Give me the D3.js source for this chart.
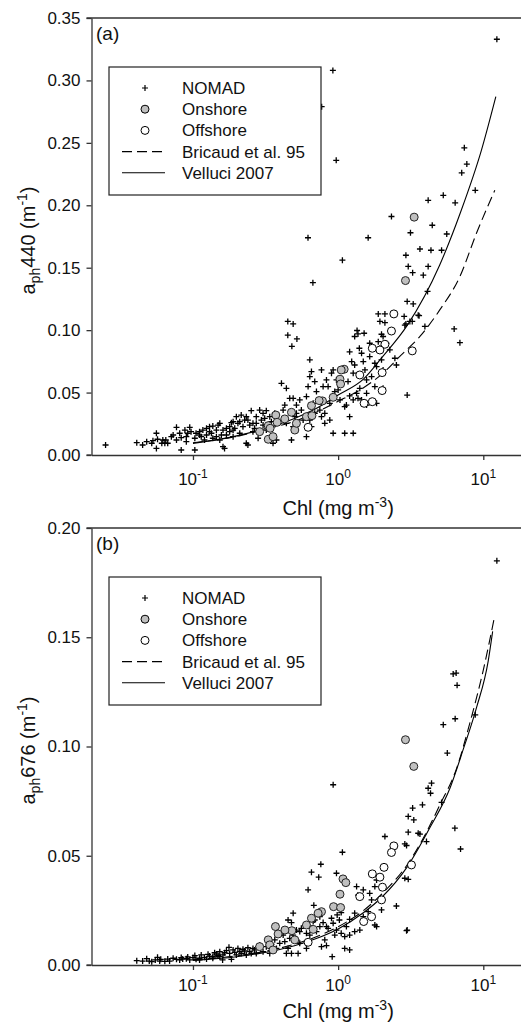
<!DOCTYPE html>
<html>
<head>
<meta charset="utf-8">
<script src="https://cdn.jsdelivr.net/npm/d3@7"></script>
<style>
  body { margin: 0; background: #fff; }
  svg { display: block; font-family: "Liberation Sans", Arial, sans-serif; }
</style>
</head>
<body>
<div id="chart"></div>
<script>
// ---- data: [Chl (mg m-3), aph (m-1)] ----
const legendLabels = ["NOMAD", "Onshore", "Offshore", "Bricaud et al. 95", "Velluci 2007"];
const chlTicks = [0.1, 1, 10];
const tickExp = ["-1", "0", "1"];
const yTicks440 = [0, 0.05, 0.10, 0.15, 0.20, 0.25, 0.30, 0.35];
const yTicks676 = [0, 0.05, 0.10, 0.15, 0.20];

const nomad440 = [
  [0.025,0.008],[0.041,0.0099],[0.045,0.008],[0.048,0.0107],[0.052,0.0094],[0.053,0.0115],[0.056,0.0174],
  [0.057,0.0126],[0.061,0.0094],[0.064,0.0094],[0.056,0.0053],[0.065,0.012],[0.071,0.0147],[0.073,0.016],
  [0.077,0.0222],[0.081,0.0174],[0.083,0.0139],[0.088,0.020],[0.090,0.0147],[0.092,0.0174],[0.095,0.0222],
  [0.097,0.0187],[0.083,0.004],[0.103,0.004],[0.105,0.0174],[0.111,0.0187],[0.117,0.020],[0.124,0.0214],
  [0.130,0.0227],[0.137,0.0232],[0.149,0.024],[0.153,0.0254],[0.114,0.0147],[0.124,0.016],[0.134,0.0174],
  [0.145,0.0147],[0.161,0.020],[0.170,0.0214],[0.179,0.0227],[0.184,0.0259],[0.189,0.0267],[0.199,0.0307],
  [0.204,0.0254],[0.215,0.032],[0.227,0.028],[0.239,0.028],[0.252,0.0355],[0.259,0.0254],[0.273,0.0307],
  [0.288,0.036],[0.304,0.0334],[0.320,0.0355],[0.338,0.0307],[0.347,0.0267],[0.366,0.0334],[0.161,0.0067],
  [0.165,0.0053],[0.233,0.0094],[0.239,0.008],[0.157,0.016],[0.170,0.016],[0.189,0.0147],[0.210,0.0174],
  [0.259,0.0187],[0.281,0.0134],[0.320,0.020],[0.356,0.0094],[0.376,0.012],[0.111,0.016],[0.130,0.0187],
  [0.145,0.020],[0.179,0.0187],[0.194,0.0214],[0.221,0.0227],[0.246,0.024],[0.273,0.0254],[0.296,0.028],
  [0.312,0.0294],[0.233,0.0307],[0.210,0.0267],[0.189,0.020],[0.103,0.0134],[0.090,0.0107],[0.077,0.012],
  [0.067,0.0094],[0.062,0.012],[0.120,0.012],[0.137,0.0134],[0.153,0.012],[0.266,0.0214],[0.304,0.024],
  [0.407,0.0574],[0.440,0.0534],[0.418,0.036],[0.429,0.040],[0.464,0.0454],[0.490,0.0454],[0.503,0.0307],
  [0.516,0.040],[0.544,0.0441],[0.558,0.036],[0.574,0.028],[0.605,0.0468],[0.621,0.0548],[0.638,0.0628],
  [0.655,0.0668],[0.690,0.0588],[0.709,0.0508],[0.728,0.0441],[0.768,0.0681],[0.768,0.0307],[0.788,0.0548],
  [0.809,0.0254],[0.831,0.0601],[0.853,0.0548],[0.876,0.0414],[0.900,0.0655],[0.924,0.0681],[0.924,0.0174],
  [0.948,0.0508],[0.974,0.0601],[1.0,0.0521],[1.03,0.0441],[0.638,0.028],[0.516,0.0334],[0.477,0.012],
  [0.605,0.0147],[0.440,0.0254],[0.490,0.0227],[0.673,0.0414],[0.748,0.036],[0.655,0.0227],[0.809,0.0334],
  [0.876,0.028],[0.690,0.0334],[0.638,0.0762],
  [1.11,0.0387],[1.14,0.040],[1.20,0.0307],[1.17,0.0588],[1.24,0.0748],[1.27,0.0655],[1.34,0.0494],
  [1.37,0.0454],[1.41,0.0534],[1.45,0.0441],[1.49,0.0748],[1.53,0.0681],[1.57,0.0601],[1.57,0.0494],
  [1.65,0.0788],[1.70,0.0628],[1.79,0.0735],[1.79,0.0548],[1.84,0.0708],[1.89,0.0908],[1.94,0.0855],
  [1.99,0.0762],[2.04,0.0949],[2.15,0.0895],[2.04,0.0681],[2.27,0.0842],[2.46,0.0775],[2.52,0.0721],
  [1.27,0.0174],[1.11,0.0174],[1.20,0.0473],[1.27,0.0441],[1.30,0.0721],[1.40,0.0855],[1.45,0.0815],
  [1.65,0.0895],[1.57,0.040],[2.04,0.0534],[1.84,0.0414],[1.35,0.0997],[1.37,0.097],[1.51,0.0975],
  [1.30,0.0949],[1.99,0.0967],[1.20,0.0826],
  [12.4,0.333],[0.92,0.308],[0.77,0.279],[0.97,0.236],[0.62,0.174],[0.67,0.138],[1.07,0.156],[1.61,0.174],
  [2.33,0.191],[7.4,0.246],[7.7,0.233],[7.1,0.226],[8.8,0.212],[5.3,0.208],[4.17,0.204],[6.4,0.202],
  [4.45,0.184],[5.6,0.177],[3.15,0.178],[3.66,0.165],[4.36,0.164],[5.16,0.164],[2.93,0.160],[3.04,0.151],
  [4.17,0.151],[3.26,0.146],[3.86,0.144],[4.13,0.131],[2.99,0.123],[3.29,0.121],[1.89,0.113],[2.10,0.113],
  [2.85,0.111],[3.56,0.112],[1.94,0.107],[2.10,0.106],[3.12,0.107],[2.88,0.104],[3.96,0.103],[6.3,0.101],
  [6.9,0.090],[2.99,0.048],[0.45,0.107],[0.49,0.105],[0.45,0.096],[0.52,0.093],[0.48,0.087],[3.61,0.1116],
  [2.93,0.105],[3.24,0.107]
];
const onshore440 = [
  [3.34,0.1905],[2.91,0.1397],[1.10,0.0687],[1.05,0.0681],[1.03,0.0607],[1.04,0.0569],[0.924,0.0462],
  [0.78,0.0433],[0.74,0.0436],[0.655,0.0395],[0.605,0.0307],[0.66,0.0315],[0.477,0.0342],[0.429,0.0289],
  [0.372,0.032],[0.38,0.0262],[0.503,0.020],[0.516,0.0254],[0.33,0.0235],[0.34,0.0214],[0.33,0.0126],
  [0.356,0.0147],[0.288,0.0187]
];
const offshore440 = [
  [2.42,0.113],[2.33,0.0993],[2.10,0.0887],[1.94,0.0841],[1.72,0.0855],[1.41,0.0641],[3.24,0.0834],
  [2.01,0.066],[2.01,0.0516],[1.72,0.0427],[1.51,0.0414],[0.621,0.0222]
];
const bricaud440 = [
  [0.1,0.0098],[0.2,0.015],[0.3,0.020],[0.5,0.027],[0.7,0.034],[1,0.043],[1.41,0.052],[2.15,0.068],
  [2.66,0.079],[3.66,0.095],[5,0.116],[6.9,0.143],[9,0.178],[12,0.212]
];
const velluci440 = [
  [0.1,0.0093],[0.2,0.0153],[0.3,0.0205],[0.5,0.0293],[0.7,0.037],[1,0.048],[1.5,0.061],[2,0.078],
  [3,0.104],[5,0.152],[7,0.195],[9.7,0.244],[12.2,0.287]
];

const nomad676 = [
  [0.041,0.0020],[0.045,0.0018],[0.048,0.0029],[0.050,0.0018],[0.052,0.0015],[0.055,0.0023],[0.057,0.0035],
  [0.060,0.0026],[0.064,0.0017],[0.069,0.0018],[0.073,0.0031],[0.077,0.0026],[0.081,0.0023],[0.085,0.0027],
  [0.090,0.0029],[0.095,0.0023],[0.100,0.0034],[0.105,0.0026],[0.111,0.0031],[0.120,0.0035],[0.130,0.0041],
  [0.137,0.0038],[0.145,0.0050],[0.153,0.0061],[0.161,0.0046],[0.170,0.0066],[0.179,0.0053],[0.189,0.0069],
  [0.199,0.0046],[0.210,0.0061],[0.221,0.0072],[0.233,0.0046],[0.246,0.0061],[0.259,0.0076],[0.273,0.0053],
  [0.177,0.0081],[0.184,0.0026],[0.160,0.0023],[0.083,0.0034],[0.092,0.0037],[0.103,0.0043],[0.114,0.0046],
  [0.127,0.0049],[0.141,0.0056],[0.149,0.0043],[0.165,0.0056],[0.194,0.0058],[0.204,0.0076],[0.215,0.0053],
  [0.227,0.0064],[0.239,0.0079],[0.252,0.0053],[0.266,0.0069],[0.281,0.0084],[0.111,0.0023],[0.124,0.0027],
  [0.137,0.0031],[0.153,0.0038],[0.059,0.0018],[0.067,0.0027],
  [0.304,0.0061],[0.338,0.0053],[0.376,0.0076],[0.396,0.0099],[0.440,0.0053],[0.477,0.0053],[0.530,0.0053],
  [0.452,0.0076],[0.544,0.0099],[0.605,0.0076],[0.288,0.0092],[0.320,0.0084],[0.347,0.0095],[0.366,0.0115],
  [0.418,0.0137],[0.429,0.0107],[0.464,0.0122],[0.490,0.0137],[0.516,0.0115],[0.452,0.0206],[0.477,0.0194],
  [0.490,0.0237],[0.558,0.0168],[0.605,0.0145],[0.516,0.016],[0.544,0.0153],[0.621,0.0344],[0.68,0.0273],
  [0.655,0.0425],[0.735,0.0402],[0.76,0.0461],[0.974,0.042],[1.07,0.0516],[0.924,0.0825],[0.673,0.0199],
  [0.69,0.0206],[0.748,0.0221],[0.748,0.0176],[0.788,0.0194],[0.831,0.0176],[0.809,0.0115],[0.831,0.0089],
  [0.768,0.0084],[0.924,0.0191],[0.948,0.0137],[0.974,0.016],[1.02,0.0206],[1.05,0.024],[1.05,0.0145],
  [1.11,0.013],[1.14,0.0176],[1.20,0.0137],[1.20,0.0209],[1.30,0.0153],[1.30,0.0237],[1.41,0.016],
  [1.49,0.0221],[1.34,0.0359],[1.37,0.032],[1.49,0.0344],[1.65,0.0328],[1.70,0.0298],[1.79,0.0359],
  [1.84,0.0389],[1.61,0.0244],[1.79,0.0183],[1.84,0.0176],[1.99,0.0252],[2.52,0.027],[2.96,0.0157],
  [2.10,0.0588],[2.88,0.0554],[2.96,0.0547],[3.04,0.0608],[3.56,0.0603],[2.88,0.0397],[3.04,0.0392],
  [3.26,0.0718],[3.04,0.068],[3.32,0.0664],[3.81,0.0733],[3.66,0.0599],[4.06,0.0565],[4.17,0.0809],
  [4.33,0.0786],[4.40,0.0832],[5.16,0.0744],[0.91,0.0038],[1.11,0.0076],[1.20,0.0069],[6.37,0.0626],
  [6.97,0.0531],[2.99,0.016],[6.2,0.1332],[6.5,0.1336],[6.6,0.128],[6.4,0.1127],[5.3,0.110],[8.8,0.1145],
  [5.65,0.097],[12.4,0.185],[0.853,0.0168],[0.90,0.0214],[0.985,0.0229],[0.709,0.0153],[0.638,0.0137],
  [0.655,0.0168]
];
const onshore676 = [
  [2.91,0.1031],[3.32,0.0909],[1.08,0.0394],[1.13,0.0377],[1.03,0.0324],[0.93,0.0267],[1.04,0.0263],
  [0.768,0.0244],[0.728,0.0237],[0.655,0.0214],[0.605,0.0183],[0.673,0.0163],[0.48,0.0157],[0.43,0.016],
  [0.37,0.0176],[0.386,0.0142],[0.503,0.0115],[0.33,0.0115],[0.338,0.0092],[0.288,0.0084],[0.356,0.0069]
];
const offshore676 = [
  [2.42,0.0545],[2.33,0.0515],[2.07,0.0447],[1.72,0.0417],[1.94,0.0402],[2.02,0.0356],[1.41,0.0313],
  [1.99,0.0298],[3.20,0.0458],[1.70,0.0221],[1.50,0.0199],[0.621,0.0104]
];
const bricaud676 = [
  [0.1,0.0023],[0.2,0.0042],[0.3,0.006],[0.5,0.0095],[0.7,0.0128],[1,0.0175],[1.5,0.025],[2,0.0325],
  [3,0.046],[4,0.060],[5,0.073],[6.55,0.090],[8.1,0.111],[10,0.135],[12,0.160]
];
const velluci676 = [
  [0.1,0.0021],[0.2,0.0038],[0.3,0.0055],[0.5,0.0088],[0.7,0.012],[1,0.0165],[1.5,0.024],[2,0.031],
  [3,0.045],[4.3,0.063],[5.9,0.081],[7.3,0.099],[9,0.118],[10.8,0.139],[11.6,0.1527]
];

// ---- layout ----
const width = 521, height = 1026;
const svg = d3.select("#chart").append("svg")
    .attr("width", width)
    .attr("height", height);

const panels = [
  {top: 18, bottom: 455, ymax: 0.35, yTicks: yTicks440, tag: "(a)", band: "440", tickY: 30, titleY: 60,
   nomad: nomad440, onshore: onshore440, offshore: offshore440, bricaud: bricaud440, velluci: velluci440},
  {top: 528, bottom: 965, ymax: 0.20, yTicks: yTicks676, tag: "(b)", band: "676", tickY: 26, titleY: 53,
   nomad: nomad676, onshore: onshore676, offshore: offshore676, bricaud: bricaud676, velluci: velluci676}
];

const left = 91.5, right = 527;
const x = d3.scaleLog().domain([0.02, 20]).range([left, right]);
const crossPath = "M-3,0H3M0,-3V3";

function drawPanel(p) {
  const y = d3.scaleLinear().domain([0, p.ymax]).range([p.bottom, p.top]);
  const g = svg.append("g");

  // y axis
  const yAxis = g.append("g")
      .attr("transform", `translate(${left},0)`)
      .call(d3.axisLeft(y).tickValues(p.yTicks).tickFormat(d3.format(".2f")).tickSize(5).tickSizeOuter(0).tickPadding(6));
  yAxis.selectAll("text").attr("font-size", 17).attr("fill", "#111").attr("font-family", "Liberation Sans, Arial, sans-serif");

  // x axis
  g.append("g")
      .attr("transform", `translate(0,${p.bottom})`)
      .call(d3.axisBottom(x).tickValues(chlTicks).tickFormat("").tickSize(5).tickSizeOuter(0));

  g.selectAll(".domain, .tick line").attr("stroke", "#333").attr("stroke-width", 1.3);

  // top frame line
  g.append("line")
      .attr("x1", left - 5).attr("x2", right)
      .attr("y1", p.top).attr("y2", p.top)
      .attr("stroke", "#333").attr("stroke-width", 1.3);
  // bottom axis runs a little past the y axis, as in the original
  g.append("line")
      .attr("x1", left - 5).attr("x2", left)
      .attr("y1", p.bottom).attr("y2", p.bottom)
      .attr("stroke", "#333").attr("stroke-width", 1.3);

  // x tick labels 10^n
  const lab = g.append("g").selectAll("text")
      .data(chlTicks)
      .join("text")
      .attr("x", d => x(d))
      .attr("y", p.bottom + p.tickY)
      .attr("text-anchor", "middle")
      .attr("font-size", 17)
      .attr("fill", "#111");
  lab.append("tspan").text("10");
  lab.append("tspan")
      .attr("dy", -7)
      .attr("font-size", 12)
      .text((d, i) => tickExp[i]);

  // x title
  const xt = g.append("text")
      .attr("x", x(1))
      .attr("y", p.bottom + p.titleY)
      .attr("text-anchor", "middle")
      .attr("font-size", 20)
      .attr("fill", "#111");
  xt.append("tspan").text("Chl (mg m");
  xt.append("tspan").attr("dy", -8).attr("font-size", 14).text("-3");
  xt.append("tspan").attr("dy", 8).text(")");

  // y title
  const yt = g.append("text")
      .attr("transform", `translate(35,${(p.top + p.bottom) / 2 + 4}) rotate(-90)`)
      .attr("text-anchor", "middle")
      .attr("font-size", 20)
      .attr("fill", "#111");
  yt.append("tspan").text("a");
  yt.append("tspan").attr("dy", 5).attr("font-size", 14).text("ph");
  yt.append("tspan").attr("dy", -5).text(p.band + " (m");
  yt.append("tspan").attr("dy", -8).attr("font-size", 14).text("-1");
  yt.append("tspan").attr("dy", 8).text(")");

  // panel tag
  g.append("text")
      .attr("x", 96)
      .attr("y", p.top + 22)
      .attr("font-size", 19)
      .attr("fill", "#111")
      .text(p.tag);

  // NOMAD crosses
  g.append("g").selectAll("path")
      .data(p.nomad)
      .join("path")
      .attr("transform", d => `translate(${x(d[0])},${y(d[1])})`)
      .attr("d", crossPath)
      .attr("stroke", "#000")
      .attr("stroke-width", 1.3)
      .attr("fill", "none");

  // model curves
  const line = d3.line()
      .x(d => x(d[0]))
      .y(d => y(d[1]))
      .curve(d3.curveMonotoneX);
  g.append("path")
      .datum(p.bricaud)
      .attr("d", line)
      .attr("fill", "none")
      .attr("stroke", "#000")
      .attr("stroke-width", 1.1)
      .attr("stroke-dasharray", "10,5");
  g.append("path")
      .datum(p.velluci)
      .attr("d", line)
      .attr("fill", "none")
      .attr("stroke", "#000")
      .attr("stroke-width", 1.1);

  // stations
  g.append("g").selectAll("circle")
      .data(p.offshore)
      .join("circle")
      .attr("cx", d => x(d[0]))
      .attr("cy", d => y(d[1]))
      .attr("r", 4)
      .attr("fill", "#fff")
      .attr("stroke", "#000")
      .attr("stroke-width", 1);
  g.append("g").selectAll("circle")
      .data(p.onshore)
      .join("circle")
      .attr("cx", d => x(d[0]))
      .attr("cy", d => y(d[1]))
      .attr("r", 4)
      .attr("fill", "#c0c0c0")
      .attr("stroke", "#222")
      .attr("stroke-width", 1);

  // legend
  const lg = g.append("g").attr("transform", `translate(109,${p.top + 49})`);
  lg.append("rect")
      .attr("width", 212).attr("height", 128)
      .attr("fill", "#fff")
      .attr("stroke", "#222")
      .attr("stroke-width", 1.2);
  const rows = lg.selectAll("g.row")
      .data(legendLabels)
      .join("g")
      .attr("class", "row")
      .attr("transform", (d, i) => `translate(0,${21 + i * 21.2})`);
  rows.append("text")
      .attr("x", 73)
      .attr("y", 6)
      .attr("font-size", 17)
      .attr("fill", "#111")
      .text(d => d);
  rows.filter((d, i) => i === 0).append("path")
      .attr("transform", "translate(36,0)")
      .attr("d", crossPath)
      .attr("stroke", "#000")
      .attr("stroke-width", 1.2)
      .attr("fill", "none");
  rows.filter((d, i) => i === 1 || i === 2).append("circle")
      .attr("cx", 36)
      .attr("r", 4)
      .attr("fill", (d, i) => i === 0 ? "#c0c0c0" : "#fff")
      .attr("stroke", "#000");
  rows.filter((d, i) => i >= 3).append("line")
      .attr("x1", 13).attr("x2", 56)
      .attr("stroke", "#000")
      .attr("stroke-width", 1.1)
      .attr("stroke-dasharray", (d, i) => i === 0 ? "10,5" : null);
}

panels.forEach(drawPanel);
</script>
</body>
</html>
